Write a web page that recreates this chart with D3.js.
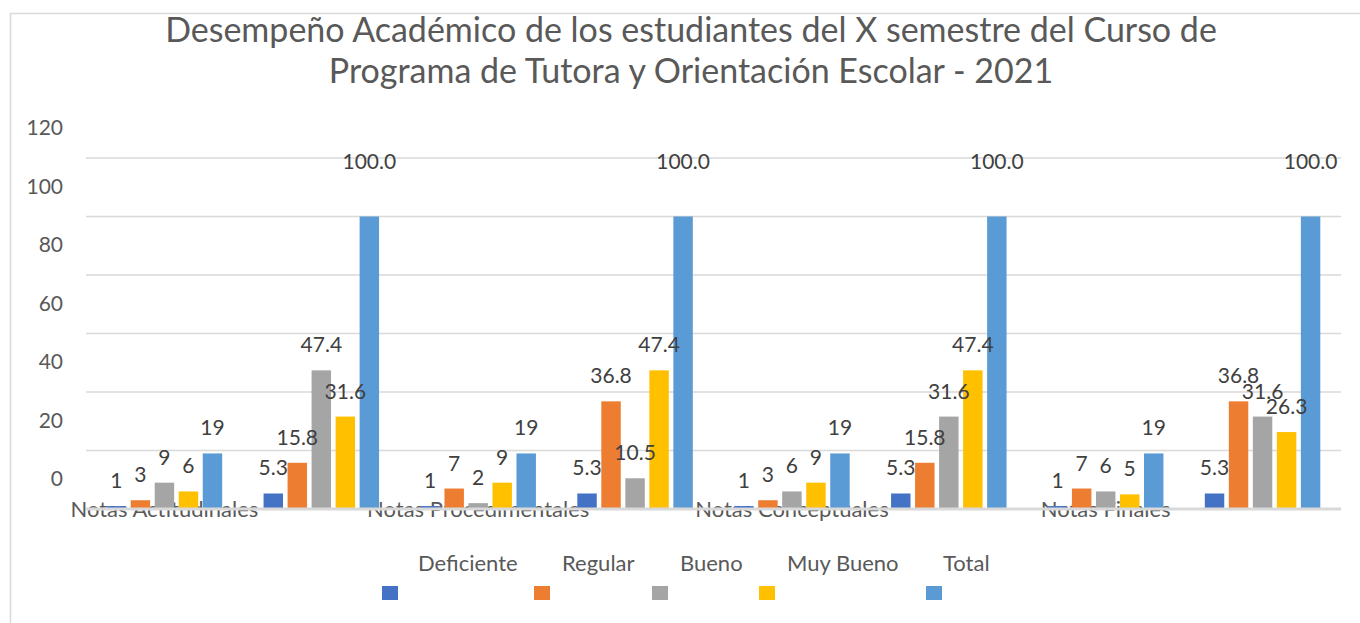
<!DOCTYPE html>
<html>
<head>
<meta charset="utf-8">
<script src="https://cdn.jsdelivr.net/npm/d3@7/dist/d3.min.js"></script>
<style>
    body { margin: 0; background: #ffffff; }
    svg { display: block; }
</style>
</head>
<body>
<div id="chart"></div>
<script>
// Data
const titleLines = [
    "Desempeño Académico de los estudiantes del X semestre del Curso de",
    "Programa de Tutora y Orientación Escolar - 2021",
];
const categories = ["Notas Actitudinales", "Notas Procedimentales", "Notas Conceptuales", "Notas Finales"];
const series = ["Deficiente", "Regular", "Bueno", "Muy Bueno", "Total"];
const seriesColors = ["#4472C4", "#ED7D31", "#A5A5A5", "#FFC000", "#5B9BD5"];
// number of students per level
const countValues = [
    [1, 3, 9, 6, 19],
    [1, 7, 2, 9, 19],
    [1, 3, 6, 9, 19],
    [1, 7, 6, 5, 19],
];
// percentage per level
const percentValues = [
    [5.3, 15.8, 47.4, 31.6, 100.0],
    [5.3, 36.8, 10.5, 47.4, 100.0],
    [5.3, 15.8, 31.6, 47.4, 100.0],
    [5.3, 36.8, 31.6, 26.3, 100.0],
];
const yTicks = [0, 20, 40, 60, 80, 100, 120];

// Layout
const width = 1360;
const height = 623;
const plot = { left: 86, right: 1341, top: 158, bottom: 509 };
const font = "Lato, 'Open Sans', sans-serif";
const gridColor = "#d9d9d9";

// each category gets a count group and a percentage group
const groups = [];
categories.forEach((cat, i) => {
    groups.push({ key: `n${i}`, label: cat, values: countValues[i], fmt: d3.format("d") });
    groups.push({ key: `p${i}`, label: "", values: percentValues[i], fmt: d3.format(".1f") });
});

const svg = d3.select("#chart")
    .append("svg")
    .attr("width", width)
    .attr("height", height);

// Chart border (right and bottom edges fall outside the picture)
svg.append("rect")
    .attr("x", 10.5)
    .attr("y", 13.5)
    .attr("width", width)
    .attr("height", height)
    .attr("fill", "none")
    .attr("stroke", gridColor)
    .attr("stroke-width", 1.5);

// Title
svg.append("g")
    .selectAll("text")
    .data(titleLines)
    .enter()
    .append("text")
    .attr("x", 691)
    .attr("y", (d, i) => 42 + i * 41)
    .attr("text-anchor", "middle")
    .attr("font-family", font)
    .attr("font-size", "34px")
    .attr("fill", "#595959")
    .text(d => d);

const x0 = d3.scaleBand()
    .domain(groups.map(g => g.key))
    .range([plot.left, plot.right])
    .padding(0);

const groupInner = 115.5;
const x1 = d3.scaleBand()
    .domain(series)
    .range([(x0.bandwidth() - groupInner) / 2, (x0.bandwidth() + groupInner) / 2])
    .paddingInner(0.19)
    .paddingOuter(0);

const y = d3.scaleLinear()
    .domain([0, 120])
    .range([plot.bottom, plot.top]);

// Category labels sit under the bars (the bars and axis line cover their top)
svg.append("g")
    .selectAll("text")
    .data(groups.filter(g => g.label))
    .enter()
    .append("text")
    .attr("x", d => x0(d.key) + x0.bandwidth() / 2)
    .attr("y", plot.bottom + 8)
    .attr("text-anchor", "middle")
    .attr("font-family", font)
    .attr("font-size", "22px")
    .attr("fill", "#595959")
    .text(d => d.label);

// Gridlines
svg.append("g")
    .selectAll("line")
    .data(yTicks.filter(t => t > 0))
    .enter()
    .append("line")
    .attr("x1", plot.left)
    .attr("x2", plot.right)
    .attr("y1", d => y(d))
    .attr("y2", d => y(d))
    .attr("stroke", gridColor)
    .attr("stroke-width", 1.5);

// Tick labels (drawn half a step above their gridline, as in the original)
svg.append("g")
    .selectAll("text")
    .data(yTicks)
    .enter()
    .append("text")
    .attr("x", 63)
    .attr("y", d => y(d) - 23)
    .attr("text-anchor", "end")
    .attr("font-family", font)
    .attr("font-size", "21px")
    .attr("fill", "#595959")
    .text(d => d);

// Bars
const groupEls = svg.append("g")
    .selectAll("g")
    .data(groups)
    .enter()
    .append("g")
    .attr("transform", d => `translate(${x0(d.key)},0)`);

const cells = d => d.values.map((v, i) => ({ name: series[i], value: v, color: seriesColors[i], fmt: d.fmt }));

groupEls.selectAll("rect")
    .data(cells)
    .enter()
    .append("rect")
    .attr("x", d => x1(d.name))
    .attr("y", d => y(d.value))
    .attr("width", x1.bandwidth())
    .attr("height", d => y(0) - y(d.value))
    .attr("fill", d => d.color);

// Axis line
svg.append("line")
    .attr("x1", plot.left)
    .attr("x2", plot.right)
    .attr("y1", plot.bottom)
    .attr("y2", plot.bottom)
    .attr("stroke", gridColor)
    .attr("stroke-width", 3);

// Data labels; the full bars get their label pushed up under the top gridline
groupEls.selectAll("text")
    .data(cells)
    .enter()
    .append("text")
    .attr("x", d => x1(d.name) + x1.bandwidth() / 2)
    .attr("y", d => d.value >= 100 ? y(120) + 11 : y(d.value) - 18)
    .attr("text-anchor", "middle")
    .attr("font-family", font)
    .attr("font-size", "21px")
    .attr("fill", "#404040")
    .text(d => d.fmt(d.value));

// Legend: names on one row, swatches just below
const legendText = [418, 562, 680, 787, 943];
const legend = svg.append("g")
    .selectAll("g")
    .data(series)
    .enter()
    .append("g");

legend.append("text")
    .attr("x", (d, i) => legendText[i])
    .attr("y", 571)
    .attr("font-family", font)
    .attr("font-size", "22px")
    .attr("fill", "#595959")
    .text(d => d);

legend.append("rect")
    .attr("x", (d, i) => legendText[i] - (i === 0 ? 36 : i === 4 ? 17 : 28))
    .attr("y", 586)
    .attr("width", 16)
    .attr("height", 14)
    .attr("fill", (d, i) => seriesColors[i]);
</script>
</body>
</html>
